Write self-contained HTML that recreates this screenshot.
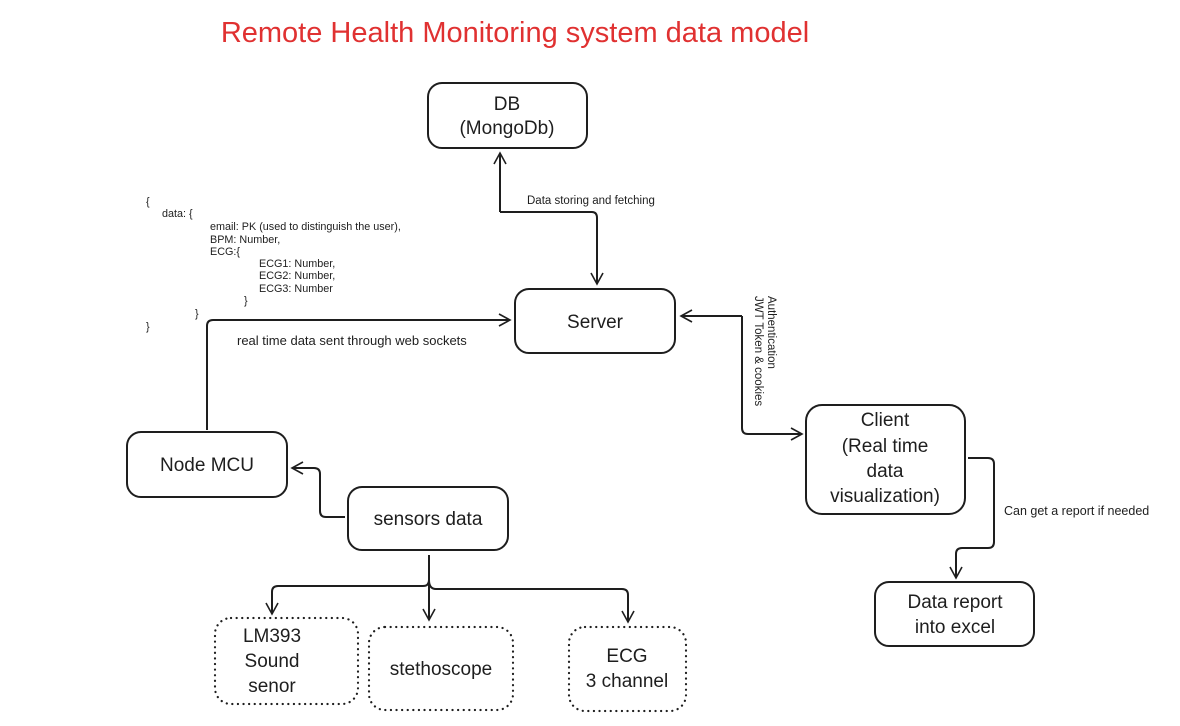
<!DOCTYPE html>
<html><head><meta charset="utf-8"><style>
html,body{margin:0;padding:0;background:#fff;}
svg{display:block;font-family:"Liberation Sans",sans-serif;}
</style></head><body>
<svg width="1180" height="726" viewBox="0 0 1180 726" xmlns="http://www.w3.org/2000/svg">
<defs>
<marker id="a" markerWidth="14" markerHeight="14" refX="12" refY="7" orient="auto" markerUnits="userSpaceOnUse">
<path d="M1,1 L12,7 L1,13" fill="none" stroke="#1e1e1e" stroke-width="1.6"/>
</marker>
</defs>
<text x="515" y="42" text-anchor="middle" font-size="29" fill="#e03131">Remote Health Monitoring system data model</text>

<g fill="none" stroke="#1e1e1e" stroke-width="2">
<rect x="428" y="83" width="159" height="65" rx="14"/>
<rect x="515" y="289" width="160" height="64" rx="14"/>
<rect x="127" y="432" width="160" height="65" rx="14"/>
<rect x="348" y="487" width="160" height="63" rx="14"/>
<rect x="806" y="405" width="159" height="109" rx="16"/>
<rect x="875" y="582" width="159" height="64" rx="14"/>
</g>
<g fill="none" stroke="#1e1e1e" stroke-width="2.2" stroke-dasharray="0.1 5.5" stroke-linecap="round">
<rect x="215" y="618" width="143" height="86" rx="16"/>
<rect x="369" y="627" width="144" height="83" rx="16"/>
<rect x="569" y="627" width="117" height="84" rx="16"/>
</g>

<g fill="none" stroke="#1e1e1e" stroke-width="2" stroke-linejoin="round">
<path d="M500,212 L500,153" marker-end="url(#a)"/>
<path d="M500,212 L592,212 Q597,212 597,218 L597,284" marker-end="url(#a)"/>
<path d="M207,430 L207,326 Q207,320 213,320 L510,320" marker-end="url(#a)"/>
<path d="M742,316 L681,316" marker-end="url(#a)"/>
<path d="M742,316 L742,428 Q742,434 748,434 L802,434" marker-end="url(#a)"/>
<path d="M345,517 L326,517 Q320,517 320,511 L320,474 Q320,468 314,468 L292,468" marker-end="url(#a)"/>
<path d="M968,458 L988,458 Q994,458 994,464 L994,542 Q994,548 988,548 L962,548 Q956,548 956,554 L956,578" marker-end="url(#a)"/>
<path d="M429,555 L429,620" marker-end="url(#a)"/>
<path d="M429,580 Q429,586 423,586 L278,586 Q272,586 272,592 L272,614" marker-end="url(#a)"/>
<path d="M429,580 Q429,589 436,589 L622,589 Q628,589 628,595 L628,622" marker-end="url(#a)"/>
</g>

<g font-size="19" fill="#1e1e1e" text-anchor="middle">
<text x="507" y="110">DB</text>
<text x="507" y="134">(MongoDb)</text>
<text x="595" y="328">Server</text>
<text x="207" y="471">Node MCU</text>
<text x="428" y="525">sensors data</text>
<text x="885" y="426">Client</text>
<text x="885" y="452">(Real time</text>
<text x="885" y="477">data</text>
<text x="885" y="502">visualization)</text>
<text x="955" y="608">Data report</text>
<text x="955" y="633">into excel</text>
<text x="272" y="642">LM393</text>
<text x="272" y="667">Sound</text>
<text x="272" y="692">senor</text>
<text x="441" y="675">stethoscope</text>
<text x="627" y="662">ECG</text>
<text x="627" y="687">3 channel</text>
</g>

<g fill="#1e1e1e">
<text x="527" y="204" font-size="11.5">Data storing and fetching</text>
<text x="237" y="345" font-size="13">real time data sent through web sockets</text>
<text x="1004" y="515" font-size="12.5">Can get a report if needed</text>
<text transform="translate(768,296) rotate(90)" font-size="11.5">Authentication</text>
<text transform="translate(755,296) rotate(90)" font-size="11.5">JWT Token &amp; cookies</text>
</g>

<g font-size="10.8" fill="#1e1e1e">
<text x="146" y="205">{</text>
<text x="162" y="217">data: {</text>
<text x="210" y="230">email: PK (used to distinguish the user),</text>
<text x="210" y="243">BPM: Number,</text>
<text x="210" y="255">ECG:{</text>
<text x="259" y="267">ECG1: Number,</text>
<text x="259" y="279">ECG2: Number,</text>
<text x="259" y="292">ECG3: Number</text>
<text x="244" y="304">}</text>
<text x="195" y="317">}</text>
<text x="146" y="330">}</text>
</g>
</svg>
</body></html>
